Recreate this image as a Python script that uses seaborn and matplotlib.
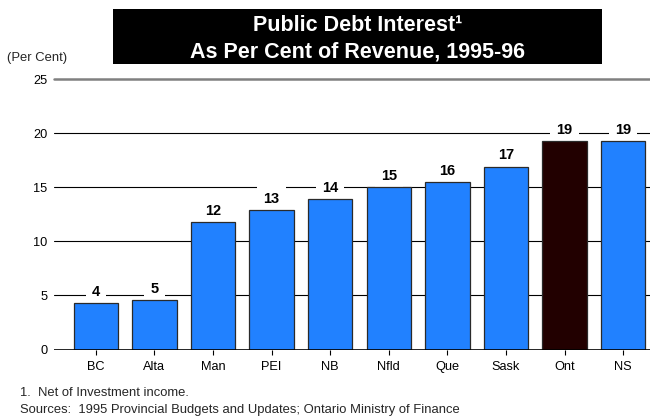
import matplotlib
matplotlib.use("Agg")
import matplotlib.pyplot as plt
from matplotlib.patches import Rectangle
import seaborn as sns

# Public debt interest as a share of revenue, 1995-96, by province
provinces = ["BC", "Alta", "Man", "PEI", "NB", "Nfld", "Que", "Sask", "Ont", "NS"]
interest_pct = [4.3, 4.55, 11.8, 12.9, 13.9, 15.0, 15.5, 16.9, 19.3, 19.3]
highlight = "Ont"
y_ticks = [0, 5, 10, 15, 20, 25]

title_lines = ["Public Debt Interest\u00b9", "As Per Cent of Revenue, 1995-96"]
unit_label = "(Per Cent)"
footnote = "1.  Net of Investment income."
source = "Sources:  1995 Provincial Budgets and Updates; Ontario Ministry of Finance"

BLUE = "#2181ff"
DARK = "#220000"

sns.set_style("white")
plt.rcParams["font.family"] = ["Liberation Sans", "DejaVu Sans"]

W, H = 650, 417
fig = plt.figure(figsize=(W / 100, H / 100), dpi=100)
y0_px, y25_px, left_px = 349.5, 79.0, 54.0
ax = fig.add_axes([left_px / W, (H - y0_px) / H, (W - left_px) / W, (y0_px - y25_px) / H])

palette = {p: (DARK if p == highlight else BLUE) for p in provinces}
sns.barplot(x=provinces, y=interest_pct, hue=provinces, palette=palette,
            width=0.76, edgecolor="#2a2a2a", linewidth=0.9, legend=False,
            saturation=1, ax=ax, zorder=3)

# value labels on white boxes that break the gridlines
for cont in ax.containers:
    ax.bar_label(cont, labels=[f"{v:.0f}" for v in cont.datavalues], padding=3,
                 fontsize=10.5, fontweight="bold", color="black",
                 bbox=dict(boxstyle="square,pad=0.42", fc="white", ec="none"),
                 zorder=2)

# horizontal rules
for y in y_ticks[1:-1]:
    ax.axhline(y, color="black", lw=0.8, zorder=1)
ax.axhline(0, color="black", lw=1.2, zorder=4)
ax.axhline(25, color="#808080", lw=1.8, zorder=1, clip_on=False)

ax.set_ylim(0, 25)
ax.set_xlim(-0.713, 9.457)
ax.set_yticks(y_ticks)
ax.set_yticklabels([str(t) for t in y_ticks])
for s in ax.spines.values():
    s.set_visible(False)
ax.tick_params(axis="y", length=0, pad=4.5, labelsize=9.2, colors="black")
ax.tick_params(axis="x", length=3.6, width=0.8, pad=4.5, labelsize=9.2,
               colors="black", direction="out", bottom=True)
ax.set_xlabel("")
ax.set_ylabel("")
ax.grid(False)

# title banner
fig.patches.append(Rectangle((113.3 / W, (H - 64.3) / H), (601.7 - 113.3) / W,
                             (64.3 - 9.0) / H, transform=fig.transFigure,
                             facecolor="black", edgecolor="none", zorder=0))
fig.text(357.6 / W, (H - 30.7) / H, title_lines[0], ha="center", va="baseline",
         color="white", fontsize=15.5, fontweight="bold")
fig.text(357.6 / W, (H - 57.3) / H, title_lines[1], ha="center", va="baseline",
         color="white", fontsize=15.5, fontweight="bold")

fig.text(7 / W, (H - 61) / H, unit_label, ha="left", va="baseline", fontsize=9.4)
fig.text(20 / W, (H - 395.7) / H, footnote, ha="left", va="baseline", fontsize=9.4)
fig.text(20 / W, (H - 413) / H, source, ha="left", va="baseline", fontsize=9.4)

fig.savefig("out.png", dpi=100)
